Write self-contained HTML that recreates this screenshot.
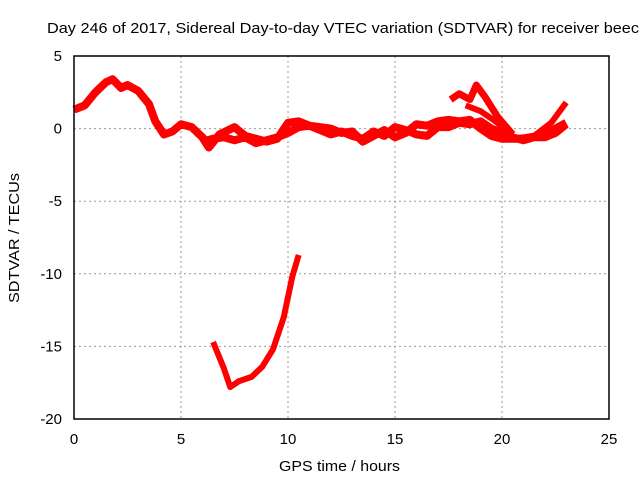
<!DOCTYPE html>
<html><head><meta charset="utf-8"><style>
body{margin:0;background:#fff;width:640px;height:480px;overflow:hidden}
svg text{font-family:"Liberation Sans",sans-serif;font-size:15px;fill:#000}
</style></head><body>
<svg id="c" width="640" height="480"></svg>
<script>
const xTicks=[0,5,10,15,20,25];
const yTicks=[5,0,-5,-10,-15,-20];
const s1x=[0,0.5,1,1.5,1.8,2.2,2.5,3,3.5,3.8,4.2,4.6,5,5.5,6,6.3,6.8,7.5,8,8.5,9,9.5,10,10.5,11,12,12.5,13,13.5,14,14.5,15,15.5,16,16.5,17,17.5,18,18.5,19,19.5,20,21,22,23];
const s1y=[1.3,1.6,2.5,3.2,3.4,2.8,3.0,2.6,1.7,0.5,-0.4,-0.2,0.3,0.1,-0.6,-1.3,-0.4,0.1,-0.5,-0.7,-0.9,-0.7,0.4,0.5,0.2,0,-0.3,-0.2,-0.9,-0.5,-0.1,-0.6,-0.3,0.3,0.2,0.5,0.6,0.5,0.6,0,-0.5,-0.7,-0.7,-0.4,0.4];
const s2x=[6,6.5,7,7.5,8,8.5,9,9.5,10,10.5,11,11.5,12,12.5,13,13.5,14,14.5,15,15.5,16,16.5,17,17.5,18,18.5,19,19.5,20,20.5,21,21.5,22,22.5,23];
const s2y=[-0.9,-0.7,-0.6,-0.8,-0.6,-1.0,-0.8,-0.6,-0.3,0.1,0.2,-0.1,-0.4,-0.2,-0.5,-0.7,-0.2,-0.5,0.1,-0.1,-0.4,-0.5,0.1,0.1,0.4,0.3,0.5,0,-0.3,-0.6,-0.8,-0.6,-0.6,-0.3,0.3];
const s3x=[17.6,18,18.5,18.8,19.2,19.8,20.5];
const s3y=[2.0,2.4,2.0,3.0,2.2,0.8,-0.4];
const s4x=[18.3,19,19.6,20.3];
const s4y=[1.6,1.2,0.6,-0.2];
const s5x=[20.5,21.5,22.3,23];
const s5y=[-0.7,-0.5,0.4,1.8];
const s6x=[6.5,7,7.3,7.7,8.3,8.8,9.3,9.8,10.2,10.5];
const s6y=[-14.7,-16.5,-17.8,-17.4,-17.1,-16.4,-15.2,-13,-10.2,-8.7];
const L=74,R=609,T=56,B=419;
const X=v=>L+(v-0)/25*(R-L), Y=v=>T+(5-v)/25*(B-T);
const svg=document.getElementById('c');const NS='http://www.w3.org/2000/svg';
function mk(t,a){const e=document.createElementNS(NS,t);for(const k in a)e.setAttribute(k,a[k]);svg.appendChild(e);return e;}
xTicks.forEach(v=>{
 if(v>0&&v<25){const g=mk('line',{x1:X(v),x2:X(v),y1:T,y2:B,stroke:'#999','stroke-dasharray':'2,3'});
 
 }
 const t=mk('text',{x:X(v),y:B+25,'text-anchor':'middle'});t.textContent=v;
 
 
});
yTicks.forEach(v=>{
 if(v<5&&v>-20){const g=mk('line',{x1:L,x2:R,y1:Y(v),y2:Y(v),stroke:'#999','stroke-dasharray':'2,3'});
 
 }
 const t=mk('text',{x:L-12,y:Y(v)+5,'text-anchor':'end'});t.textContent=v;
 
 
});
[[s1x,s1y,8],[s2x,s2y,8],[s3x,s3y,7],[s4x,s4y,6],[s5x,s5y,6],[s6x,s6y,6]].forEach(([xs,ys,w])=>{
 const p=mk('polyline',{points:xs.map((x,i)=>X(x)+','+Y(ys[i])).join(' '),fill:'none',stroke:'#f00','stroke-width':w,'stroke-linejoin':'round'});
 
 
});
const f=mk('rect',{x:L,y:T,width:R-L,height:B-T,fill:'none',stroke:'#000','stroke-width':1.5});


const tt=mk('text',{x:47,y:33,textLength:592,lengthAdjust:'spacingAndGlyphs'});tt.textContent='Day 246 of 2017, Sidereal Day-to-day VTEC variation (SDTVAR) for receiver beec';


const xt=mk('text',{x:279,y:471,textLength:121,lengthAdjust:'spacingAndGlyphs'});xt.textContent='GPS time / hours';


const yt=mk('text',{x:0,y:0,transform:'translate(19,303) rotate(-90)',textLength:130,lengthAdjust:'spacingAndGlyphs'});yt.textContent='SDTVAR / TECUs';


</script>
</body></html>
